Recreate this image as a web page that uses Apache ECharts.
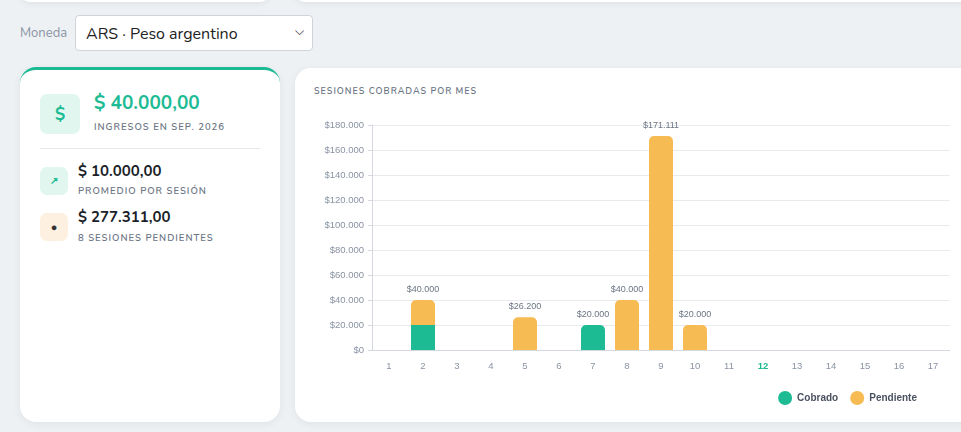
<!DOCTYPE html>
<html><head><meta charset="utf-8">
<script src="https://cdn.jsdelivr.net/npm/echarts@6/dist/echarts.min.js"></script>
<style>
body{margin:0;width:961px;height:432px;background:#eef1f4;font-family:Nunito,"Noto Sans",sans-serif;overflow:hidden;position:relative}
.top1{position:absolute;left:20px;top:-20px;width:250px;height:22px;background:#fff;border-radius:10px;box-shadow:0 2px 6px rgba(0,0,0,.06)}
.top2{position:absolute;left:295px;top:-20px;width:700px;height:22px;background:#fff;border-radius:10px;box-shadow:0 2px 6px rgba(0,0,0,.06)}
.lbl{position:absolute;left:20px;top:24px;font-size:13px;color:#8a93a3}
.sel{position:absolute;left:75px;top:15px;width:238px;height:36px;border:1px solid #ced4da;border-radius:4px;background:#fff;box-sizing:border-box;font-size:16px;color:#222;padding:7px 10px}
.sel span{position:absolute;right:8px;top:7px;font-size:12px}
.card{position:absolute;background:#fff;border-radius:16px;box-shadow:0 2px 8px rgba(0,0,0,.06)}
.left{left:20px;top:67px;width:260px;height:355px;border-top:3px solid #1dbb94;box-sizing:border-box}
.right{left:295px;top:68px;width:700px;height:354px}
.ic{position:absolute;border-radius:7px;display:flex;align-items:center;justify-content:center;font-weight:bold}
.t{position:absolute;white-space:nowrap}
.cap{font-size:9.5px;letter-spacing:1px;color:#6b7584;font-weight:600}
#chart{position:absolute;left:295px;top:68px;width:666px;height:354px}
</style></head><body>
<div class="top1"></div><div class="top2"></div>
<div class="lbl">Moneda</div>
<div class="sel">ARS · Peso argentino<span>&#9013;</span></div>
<div class="card left">
 <div class="ic" style="left:20px;top:24px;width:40px;height:40px;background:#e0f6ef;color:#1dbb94;font-size:17px">$</div>
 <div class="t" style="left:74px;top:20px;font-size:19px;font-weight:bold;color:#1dbb94">$ 40.000,00</div>
 <div class="t cap" style="left:74px;top:50px">INGRESOS EN SEP. 2026</div>
 <div style="position:absolute;left:20px;top:78px;width:220px;height:1px;background:#e6e8ec"></div>
 <div class="ic" style="left:20px;top:97px;width:28px;height:28px;background:#e0f6ef;color:#1dbb94;font-size:10px">&#8599;</div>
 <div class="t" style="left:58px;top:91px;font-size:15px;font-weight:bold;color:#1b1f2a">$ 10.000,00</div>
 <div class="t cap" style="left:58px;top:114px">PROMEDIO POR SESIÓN</div>
 <div class="ic" style="left:20px;top:143px;width:28px;height:28px;background:#fdf0e0;color:#333;font-size:11px">&#9679;</div>
 <div class="t" style="left:58px;top:137px;font-size:15px;font-weight:bold;color:#1b1f2a">$ 277.311,00</div>
 <div class="t cap" style="left:58px;top:161px">8 SESIONES PENDIENTES</div>
</div>
<div class="card right"></div>
<div class="t cap" style="left:314px;top:85px;font-size:9px;color:#6b7584">SESIONES COBRADAS POR MES</div>
<div id="chart"></div>
<script>
const categories=['1','2','3','4','5','6','7','8','9','10','11','12','13','14','15','16','17'];
const cobrado=[0,20000,0,0,0,0,20000,0,0,0,0,0,0,0,0,0,0];
const pendiente=[0,20000,0,0,26200,0,0,40000,171111,20000,0,0,0,0,0,0,0];
const currentMonth='12';
const fmt=v=>'$'+Math.round(v).toString().replace(/\B(?=(\d{3})+(?!\d))/g,'.');
const total=i=>cobrado[i]+pendiente[i];
const lab={show:true,position:'top',color:'#6b7584',fontSize:9,distance:6};
const c=echarts.init(document.getElementById('chart'));
c.setOption({
 animation:false,
 grid:{left:77,right:11,top:57,bottom:72},
 legend:{right:39,top:318,icon:'circle',itemWidth:14,itemHeight:14,itemGap:12,textStyle:{color:'#4a5260',fontSize:10,fontWeight:'bold'},data:['Cobrado','Pendiente']},
 xAxis:{type:'category',data:categories,axisLine:{lineStyle:{color:'#d5d9df'}},axisTick:{show:false},
  axisLabel:{margin:11,fontSize:9.5,color:'#8a93a3',formatter:v=>v===currentMonth?'{c|'+v+'}':v,rich:{c:{color:'#1dbb94',fontWeight:'bold',fontSize:9.5}}}},
 yAxis:{type:'value',min:0,max:180000,interval:20000,axisLine:{show:true,lineStyle:{color:'#d5d9df'}},axisTick:{show:true,length:4,lineStyle:{color:'#d5d9df'}},
  splitLine:{lineStyle:{color:'#e8eaee'}},axisLabel:{fontSize:9.5,color:'#8a93a3',formatter:fmt,margin:8}},
 series:[
  {name:'Cobrado',type:'bar',stack:'s',barWidth:24,itemStyle:{color:'#1dbb94'},
   data:cobrado.map((v,i)=>({value:v,itemStyle:{borderRadius:pendiente[i]>0?0:[5,5,0,0]},label:Object.assign({},lab,{show:v>0&&pendiente[i]===0,formatter:()=>fmt(total(i))})}))},
  {name:'Pendiente',type:'bar',stack:'s',barWidth:24,itemStyle:{color:'#f6bb52',borderRadius:[5,5,0,0]},
   data:pendiente.map((v,i)=>({value:v,label:Object.assign({},lab,{show:v>0,formatter:()=>fmt(total(i))})}))}
 ]
});
</script></body></html>
